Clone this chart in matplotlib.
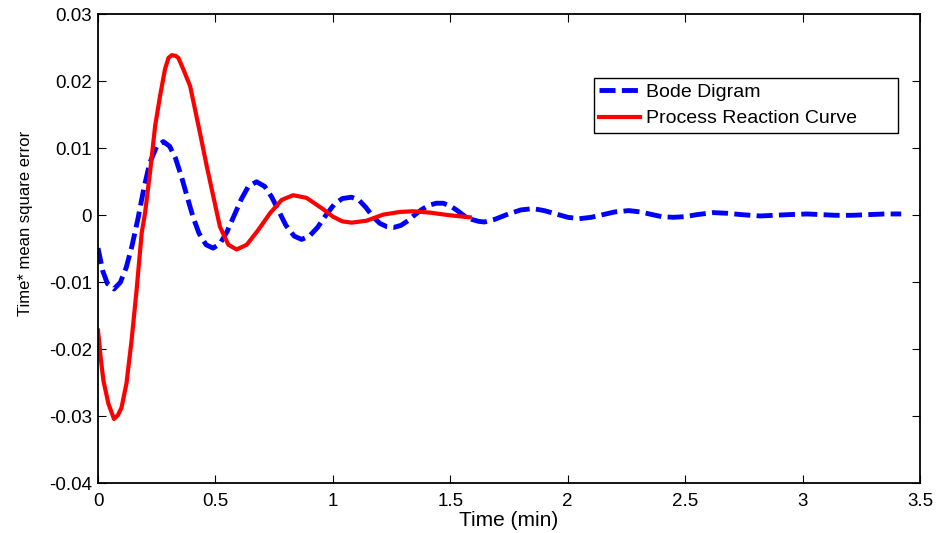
import matplotlib
matplotlib.use("Agg")
import matplotlib.pyplot as plt

plt.rcParams['font.family'] = ['Liberation Sans', 'DejaVu Sans']

# Bode diagram tuning: time-weighted error response
bode_t = [0.000, 0.020, 0.040, 0.068, 0.095, 0.120, 0.145, 0.170, 0.195, 0.220,
          0.250, 0.278, 0.305, 0.330, 0.355, 0.380, 0.405, 0.430, 0.460, 0.490,
          0.520, 0.550, 0.580, 0.610, 0.640, 0.675, 0.710, 0.740, 0.770, 0.800,
          0.835, 0.867, 0.900, 0.935, 0.970, 1.005, 1.040, 1.079, 1.110, 1.140,
          1.170, 1.200, 1.230, 1.260, 1.290, 1.320, 1.350, 1.380, 1.410, 1.440,
          1.470, 1.500, 1.530, 1.560, 1.590, 1.620, 1.645, 1.690, 1.740, 1.800,
          1.852, 1.900, 1.950, 2.000, 2.050, 2.100, 2.150, 2.200, 2.260, 2.310,
          2.360, 2.400, 2.450, 2.500, 2.550, 2.620, 2.680, 2.740, 2.820, 2.880,
          2.940, 3.020, 3.080, 3.140, 3.210, 3.280, 3.350, 3.420]
bode_e = [-0.0049, -0.0083, -0.0102, -0.0110, -0.0100, -0.0078, -0.0045, -0.0005, 0.0040, 0.0078,
          0.0103, 0.0110, 0.0103, 0.0085, 0.0058, 0.0027, -0.0003, -0.0027, -0.0044, -0.0049,
          -0.0042, -0.0024, 0.0000, 0.0024, 0.0043, 0.0050, 0.0043, 0.0027, 0.0006, -0.0015,
          -0.0031, -0.0036, -0.0031, -0.0018, 0.0000, 0.0016, 0.0025, 0.0027, 0.0023, 0.0012,
          -0.0002, -0.0012, -0.0017, -0.0018, -0.0015, -0.0008, 0.0001, 0.0009, 0.0015, 0.0018,
          0.0018, 0.0014, 0.0007, -0.0001, -0.0006, -0.0009, -0.0010, -0.0006, 0.0001, 0.0008,
          0.0010, 0.0007, 0.0002, -0.0003, -0.0005, -0.0003, 0.0001, 0.0005, 0.0007, 0.0005,
          0.0001, -0.0002, -0.0003, -0.0002, 0.0001, 0.0004, 0.0003, 0.0001, -0.0001, 0.0000,
          0.0001, 0.0002, 0.0001, 0.0000, 0.0000, 0.0001, 0.0002, 0.0002]

# Process reaction curve tuning
prc_t = [0.000, 0.012, 0.023, 0.044, 0.068, 0.085, 0.100, 0.121, 0.143, 0.164,
         0.186, 0.200, 0.221, 0.243, 0.264, 0.285, 0.300, 0.314, 0.330, 0.342,
         0.363, 0.392, 0.413, 0.434, 0.463, 0.491, 0.519, 0.555, 0.590, 0.633,
         0.682, 0.732, 0.782, 0.831, 0.888, 0.959, 1.000, 1.040, 1.080, 1.144,
         1.214, 1.285, 1.340, 1.413, 1.498, 1.583]
prc_e = [-0.0172, -0.0215, -0.0247, -0.0281, -0.0304, -0.0298, -0.0287, -0.0251, -0.0186, -0.0112,
         -0.0026, 0.0003, 0.0063, 0.0133, 0.0178, 0.0218, 0.0235, 0.0239, 0.0238, 0.0235,
         0.0218, 0.0193, 0.0158, 0.0123, 0.0073, 0.0028, -0.0017, -0.0044, -0.0051, -0.0044,
         -0.0022, 0.0003, 0.0023, 0.0030, 0.0026, 0.0009, -0.0002, -0.0009, -0.0011, -0.0008,
         0.0001, 0.0005, 0.0006, 0.0004, 0.0000, -0.0003]

x_ticks = [0, 0.5, 1, 1.5, 2, 2.5, 3, 3.5]
x_tick_labels = ['0', '0.5', '1', '1.5', '2', '2.5', '3', '3.5']
y_ticks = [-0.04, -0.03, -0.02, -0.01, 0, 0.01, 0.02, 0.03]
y_tick_labels = ['-0.04', '-0.03', '-0.02', '-0.01', '0', '0.01', '0.02', '0.03']

fig = plt.figure(figsize=(9.4, 5.33), dpi=100)
ax = fig.add_axes([0.1043, 0.0932, 0.8744, 0.8800])

ax.plot(bode_t, bode_e, color='#0000ff', linewidth=3.5, linestyle=(0, (3.3, 1.3)),
        label='Bode Digram')
ax.plot(prc_t, prc_e, color='#ff0000', linewidth=3.0, label='Process Reaction Curve')

ax.set_xlim(0, 3.5)
ax.set_ylim(-0.04, 0.03)
ax.set_xticks(x_ticks)
ax.set_xticklabels(x_tick_labels)
ax.set_yticks(y_ticks)
ax.set_yticklabels(y_tick_labels)
ax.tick_params(direction='in', length=6, width=0.8, top=True, right=True,
               labelsize=13.5)
ax.tick_params(axis='x', pad=7)
ax.tick_params(axis='y', pad=4.5)
for s in ax.spines.values():
    s.set_linewidth(1.3)

ax.set_xlabel('Time (min)', fontsize=15)
ax.xaxis.set_label_coords(0.5, -0.058)
ax.set_ylabel('Time* mean square error', fontsize=12)
ax.yaxis.set_label_coords(-0.079, 0.555)

leg = ax.legend(loc='upper left', bbox_to_anchor=(0.6034, 0.8642, 0.3698, 0.0),
                mode='expand', borderaxespad=0,
                fontsize=14, handlelength=2.1, handletextpad=0.3, borderpad=0.28,
                labelspacing=0.45, fancybox=False, framealpha=1)
leg.get_frame().set_edgecolor('black')
leg.get_frame().set_linewidth(1.0)

fig.savefig('out.png', dpi=100)
